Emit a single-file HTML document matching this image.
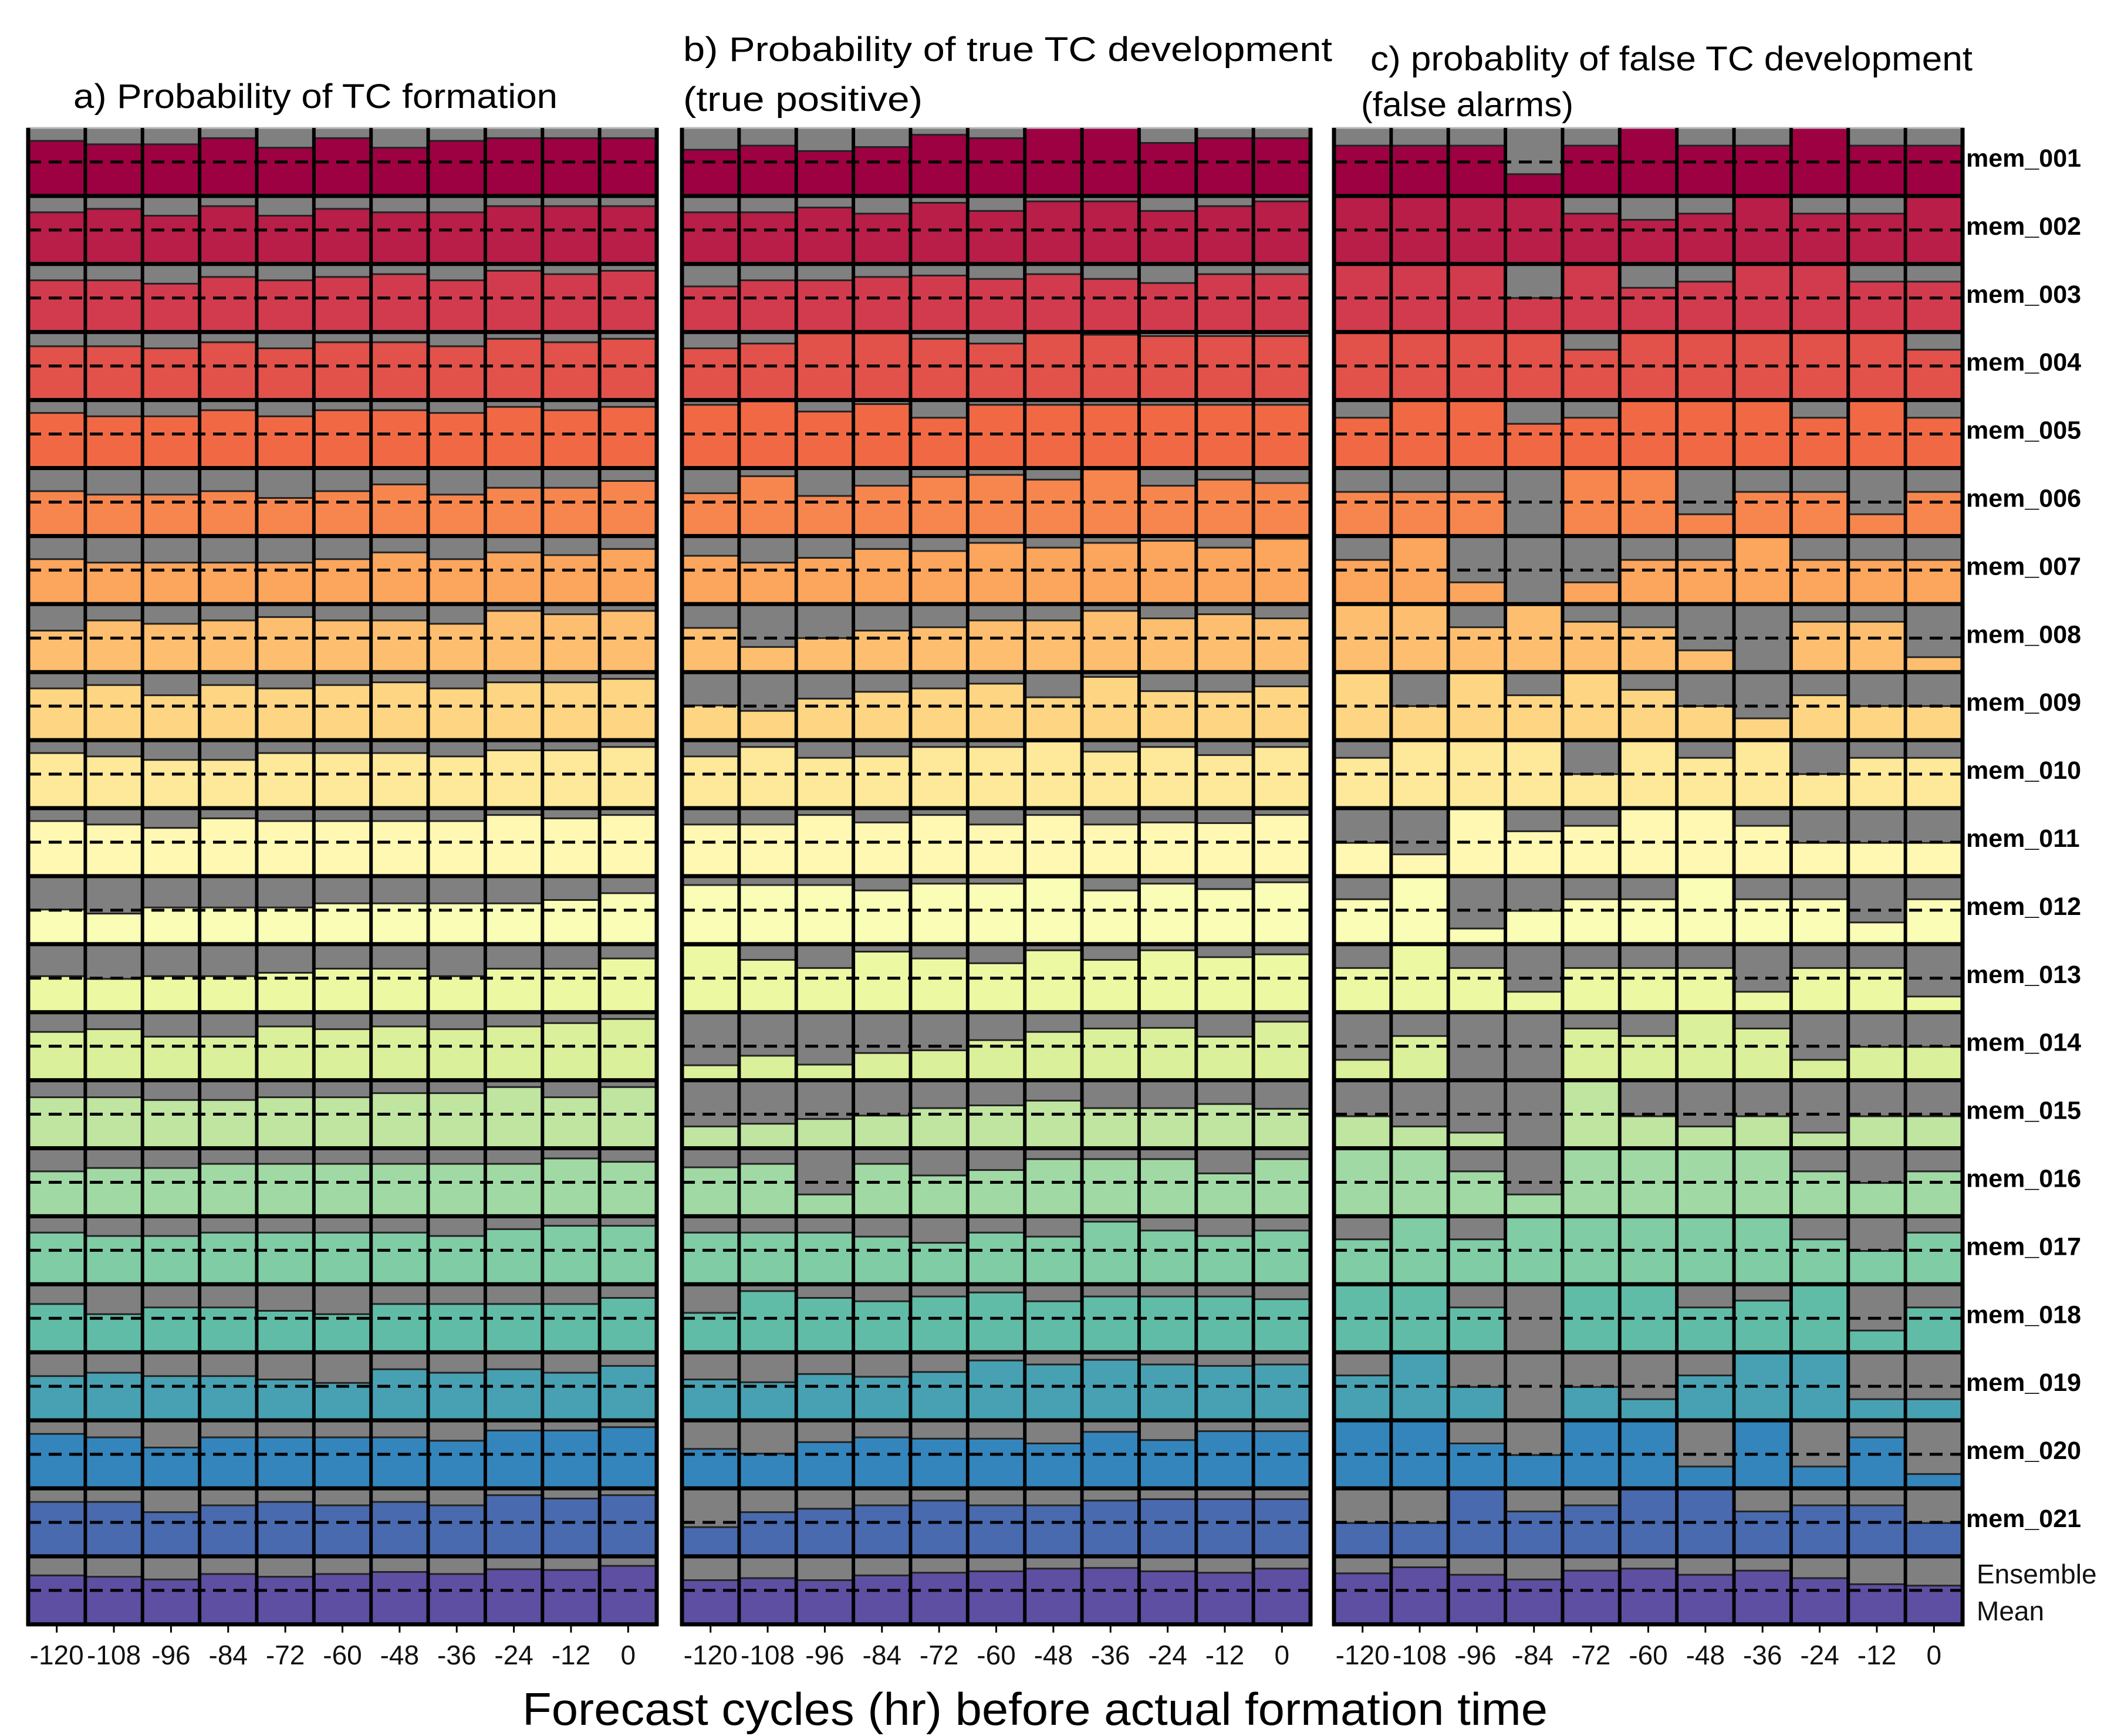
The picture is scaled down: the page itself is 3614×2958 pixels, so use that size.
<!DOCTYPE html>
<html><head><meta charset="utf-8"><style>
html,body{margin:0;padding:0;background:#fff}
svg{display:block}
text{font-family:"Liberation Sans","DejaVu Sans",sans-serif}
</style></head><body>
<svg id="chart" width="3614" height="2958" viewBox="0 0 3614 2958" xmlns="http://www.w3.org/2000/svg">
<text x="125" y="184" font-size="58" textLength="825" lengthAdjust="spacingAndGlyphs">a) Probability of TC formation</text>
<text x="1164" y="104" font-size="58" textLength="1106" lengthAdjust="spacingAndGlyphs">b) Probability of true TC development</text>
<text x="1164" y="189" font-size="58" textLength="408" lengthAdjust="spacingAndGlyphs">(true positive)</text>
<text x="2335" y="120" font-size="58" textLength="1026" lengthAdjust="spacingAndGlyphs">c) probablity of false TC development</text>
<text x="2319" y="198" font-size="58" textLength="362" lengthAdjust="spacingAndGlyphs">(false alarms)</text>
<text x="890" y="2939" font-size="78" textLength="1747" lengthAdjust="spacingAndGlyphs">Forecast cycles (hr) before actual formation time</text>
<g id="marks"></g>
</svg>
<script>
const xTicks = ["-120","-108","-96","-84","-72","-60","-48","-36","-24","-12","0"];
const members = ["mem_001","mem_002","mem_003","mem_004","mem_005","mem_006","mem_007","mem_008","mem_009","mem_010","mem_011","mem_012","mem_013","mem_014","mem_015","mem_016","mem_017","mem_018","mem_019","mem_020","mem_021","Ensemble Mean"];
const panelA = [
[.81,.76,.76,.85,.71,.85,.71,.81,.85,.85,.85],
[.76,.81,.71,.85,.71,.81,.76,.76,.85,.85,.85],
[.76,.76,.71,.81,.76,.81,.85,.76,.9,.85,.9],
[.79,.79,.76,.85,.76,.85,.85,.79,.9,.85,.9],
[.81,.76,.76,.85,.76,.85,.85,.81,.9,.85,.9],
[.66,.61,.61,.66,.56,.66,.76,.61,.71,.71,.81],
[.66,.61,.61,.61,.61,.66,.76,.66,.76,.72,.81],
[.61,.76,.71,.76,.81,.76,.76,.71,.9,.85,.9],
[.76,.81,.66,.81,.76,.81,.85,.76,.85,.85,.9],
[.81,.76,.71,.71,.81,.81,.81,.76,.85,.85,.9],
[.81,.76,.71,.85,.81,.81,.81,.81,.9,.85,.9],
[.51,.45,.54,.54,.54,.6,.6,.6,.6,.65,.75],
[.53,.49,.53,.53,.58,.64,.64,.53,.64,.64,.79],
[.71,.75,.64,.64,.79,.75,.79,.75,.79,.84,.9],
[.75,.75,.71,.71,.75,.75,.81,.81,.9,.75,.9],
[.66,.71,.71,.77,.77,.77,.77,.77,.77,.85,.8],
[.76,.71,.71,.76,.76,.76,.76,.71,.81,.86,.86],
[.71,.56,.66,.66,.61,.56,.71,.71,.71,.71,.8],
[.65,.7,.65,.65,.6,.55,.75,.7,.75,.7,.8],
[.8,.75,.6,.75,.75,.75,.75,.7,.85,.85,.9],
[.8,.8,.65,.75,.8,.75,.8,.75,.9,.85,.9],
[.72,.7,.66,.74,.7,.74,.77,.74,.81,.8,.86]
];
const panelB = [
[.68,.74,.66,.72,.9,.85,1,1,.78,.85,.85],
[.76,.76,.83,.74,.9,.78,.92,.92,.78,.85,.92],
[.67,.76,.76,.81,.83,.78,.85,.78,.72,.85,.85],
[.76,.83,.98,.98,.9,.83,.98,.96,.94,.94,.94],
[.93,.98,.83,.94,.74,.93,.93,.93,.93,.93,.93],
[.63,.88,.59,.74,.87,.9,.83,.98,.74,.83,.78],
[.71,.61,.68,.81,.78,.9,.83,.9,.93,.83,.96],
[.65,.37,.5,.61,.66,.76,.76,.9,.79,.85,.79],
[.51,.43,.61,.71,.76,.83,.63,.93,.72,.71,.79],
[.76,.9,.74,.76,.9,.9,.98,.83,.9,.78,.9],
[.76,.76,.9,.79,.9,.76,.9,.76,.79,.78,.9],
[.87,.87,.87,.79,.89,.89,.98,.79,.89,.81,.91],
[.98,.77,.65,.89,.79,.72,.91,.77,.91,.81,.85],
[.22,.36,.23,.4,.44,.59,.71,.76,.77,.64,.86],
[.32,.36,.43,.48,.59,.63,.7,.59,.59,.65,.58],
[.72,.77,.32,.77,.6,.68,.84,.84,.84,.63,.84],
[.76,.76,.76,.7,.61,.76,.7,.92,.79,.71,.79],
[.58,.9,.8,.75,.82,.88,.75,.82,.82,.82,.78],
[.6,.56,.68,.64,.71,.88,.82,.89,.82,.8,.82],
[.58,.51,.68,.75,.73,.73,.66,.83,.71,.84,.84],
[.43,.65,.7,.75,.82,.75,.75,.82,.84,.84,.84],
[.65,.68,.65,.72,.76,.78,.82,.83,.78,.76,.82]
];
const panelC = [
[.74,.74,.74,.32,.74,1,.74,.74,1,.74,.74],
[1,1,1,1,.74,.65,.74,1,.74,.74,1],
[1,1,1,.5,1,.65,.74,1,1,.74,.74],
[1,1,1,1,.74,1,1,1,1,1,.74],
[.74,1,1,.65,.74,1,1,1,.74,1,.74],
[.65,.65,.65,0,1,1,.32,.65,.65,.32,.65],
[.65,1,.32,0,.32,.65,.65,1,.65,.65,.65],
[1,1,.66,1,.74,.66,.32,0,.74,.74,.22],
[1,.5,1,.66,1,.74,.5,.32,.66,.5,.5],
[.74,1,1,1,.5,1,.74,1,.5,.74,.74],
[.49,.32,1,.66,.74,1,1,.74,.49,.49,.49],
[.66,1,.23,.49,.66,.66,1,.66,.66,.32,.66],
[.65,1,.65,.3,.65,.65,.65,.3,.65,.65,.23],
[.3,.65,0,0,.76,.65,1,.76,.3,.49,.49],
[.47,.32,.23,0,1,.47,.32,.47,.23,.47,.47],
[1,1,.66,.32,1,1,1,1,.66,.49,.66],
[.66,1,.66,1,1,1,1,1,.66,.49,.76],
[1,1,.66,0,1,1,.66,.76,1,.32,.66],
[.66,1,.49,0,.49,.31,.66,1,1,.31,.31],
[1,1,.66,.49,1,1,.32,1,.32,.75,.21],
[.49,.49,1,.66,.75,1,1,.66,.75,.75,.49],
[.75,.84,.73,.66,.79,.82,.73,.79,.68,.59,.57]
];
const panels = [panelA, panelB, panelC];
const panelNames = ["panel-a","panel-b","panel-c"];

const NS = "http://www.w3.org/2000/svg";
const TOP = 218, ROWH = 115.9, PW = 1071, COLW = PW / 11;
const LEFTS = [48, 1162, 2273];
const stops = ["#9e0142","#d53e4f","#f46d43","#fdae61","#fee08b","#ffffbf","#e6f598","#abdda4","#66c2a5","#3288bd","#5e4fa2"];
function hex(h){return [1,3,5].map(i=>parseInt(h.substr(i,2),16));}
function spectral(t){
  const s = t * (stops.length - 1); const i = Math.min(Math.floor(s), stops.length - 2); const f = s - i;
  const a = hex(stops[i]), b = hex(stops[i+1]);
  return "rgb(" + a.map((v,k)=>Math.round(v + (b[k]-v)*f)).join(",") + ")";
}
function xScale(p, c){ return LEFTS[p] + c * COLW; }
function yRow(r){ return TOP + r * ROWH; }
function mk(tag, attrs, parent){ const e = document.createElementNS(NS, tag); for (const k in attrs) e.setAttribute(k, attrs[k]); parent.appendChild(e); return e; }
const g = document.getElementById("marks");

panels.forEach((data, p) => {
  const pg = mk("g", {}, g);
  
  
  data.forEach((row, r) => {
    const color = spectral(r / (data.length - 1));
    const y0 = yRow(r), y1 = yRow(r + 1);
    row.forEach((v, c) => {
      const x0 = xScale(p, c), x1 = xScale(p, c + 1);
      const bg = mk("rect", {x: x0, y: y0, width: x1 - x0, height: ROWH, fill: "#808080"}, pg);
      
      
      const h = v * ROWH;
      const bar = mk("rect", {x: x0, y: y1 - h, width: x1 - x0, height: h, fill: color}, pg);
      
      
      if (v > 0 && v < 1) mk("line", {x1: x0, x2: x1, y1: y1 - h, y2: y1 - h, stroke: "#222", "stroke-width": 3}, pg);
    });
    const dl = mk("line", {x1: xScale(p,0), x2: xScale(p,11), y1: (y0 + y1) / 2, y2: (y0 + y1) / 2, stroke: "#000", "stroke-width": 5, "stroke-dasharray": "22 13"}, pg);
    
    
  });
  for (let r = 0; r <= data.length; r++) {
    mk("line", {x1: xScale(p,0) - 3, x2: xScale(p,11) + 3, y1: yRow(r), y2: yRow(r), stroke: r === 0 ? "#bbb" : "#000", "stroke-width": r === 0 ? 3 : 7}, pg);
  }
  for (let c = 0; c <= 11; c++) {
    const w = (c === 0 || c === 11) ? 7 : 6;
    mk("line", {x1: xScale(p,c), x2: xScale(p,c), y1: TOP, y2: yRow(data.length) + 3, stroke: "#000", "stroke-width": w}, pg);
    if (c < 11) {
      const cx = xScale(p, c) + COLW / 2;
      mk("line", {x1: cx, x2: cx, y1: yRow(data.length) + 3, y2: yRow(data.length) + 14, stroke: "#000", "stroke-width": 3}, pg);
      const t = mk("text", {x: cx, y: 2836, "font-size": 46, "text-anchor": "middle", fill: "#111"}, pg);
      
      
      t.textContent = xTicks[c];
    }
  }
});

members.forEach((m, r) => {
  const cy = yRow(r) + ROWH / 2;
  if (r < members.length - 1) {
    const t = mk("text", {x: 3350, y: cy + 8, "font-size": 43, "font-weight": "bold", fill: "#000"}, g);
    
    
    t.textContent = m;
  } else {
    const words = m.split(" ");
    words.forEach((w, i) => {
      const t = mk("text", {x: 3368, y: 2698 + i * 63, "font-size": 46, fill: "#111"}, g);
      
      
      t.textContent = w;
    });
  }
});
</script>
</body></html>
